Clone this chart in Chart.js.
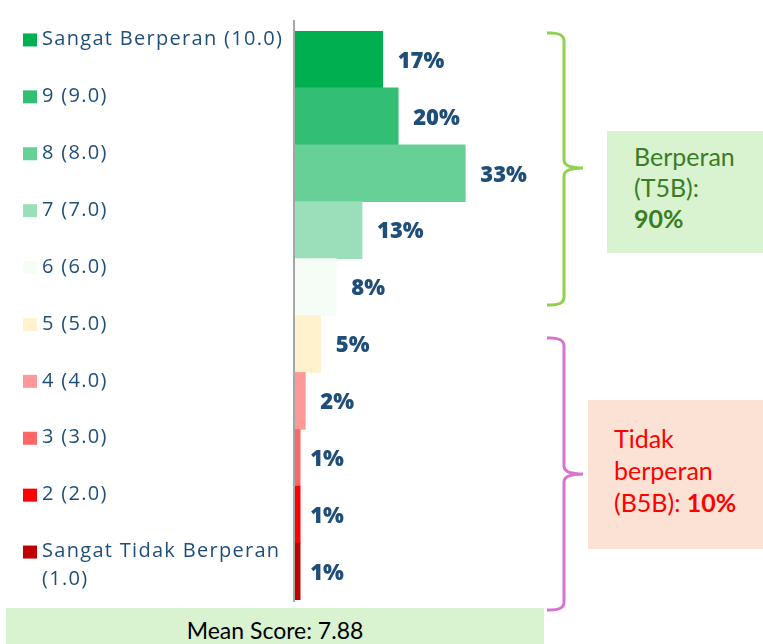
<!DOCTYPE html>
<html>
<head>
<meta charset="utf-8">
<script src="https://cdn.jsdelivr.net/npm/chart.js@4"></script>
<style>
  html, body { margin: 0; padding: 0; background: #fff; }
  #wrap { position: relative; width: 763px; height: 644px; overflow: hidden; }
  #chart { position: absolute; left: 0; top: 0; }
  .box { position: absolute; font-family: "Lato", "Open Sans", sans-serif; }
  #t5b { left: 607px; top: 131px; width: 160px; height: 122px; background: #d9f2d0; color: #3b7d23; font-size: 25px; line-height: 31px; padding: 10px 0 0 27px; box-sizing: border-box; }
  #b5b { left: 588px; top: 400px; width: 180px; height: 149px; background: #fbe2d5; color: #ff0000; font-size: 25px; line-height: 32px; padding: 22px 0 0 26px; box-sizing: border-box; }
  #mean { left: 6px; top: 608px; width: 538px; height: 36px; background: #d9f2d0; color: #000; font-size: 23px; line-height: 45px; text-align: center; }
</style>
</head>
<body>
<div id="wrap">
  <canvas id="chart" width="763" height="644"></canvas>
  <div class="box" id="t5b">Berperan<br>(T5B):<br><b>90%</b></div>
  <div class="box" id="b5b">Tidak<br>berperan<br>(B5B): <b>10%</b></div>
  <div class="box" id="mean">Mean Score: 7.88</div>
</div>
<script>
"use strict";

// skala 10 → 1, dari atas ke bawah
const CATEGORIES = [
  ["Sangat Berperan (10.0)"],
  ["9 (9.0)"],
  ["8 (8.0)"],
  ["7 (7.0)"],
  ["6 (6.0)"],
  ["5 (5.0)"],
  ["4 (4.0)"],
  ["3 (3.0)"],
  ["2 (2.0)"],
  ["Sangat Tidak Berperan", "(1.0)"],
];
const PERCENTS = [17, 20, 33, 13, 8, 5, 2, 1, 1, 1];
const BAR_COLORS = ["#00b050", "#33bf73", "#66d096", "#9adfb9", "#f5fdf6", "#fff2cc", "#ff9999", "#ff6666", "#ff0000", "#c00000"];

const LABEL_BLUE = "#1f4e79";

// garis sumbu vertikal abu-abu
const axisLine = {
  id: "axisLine",
  afterDatasetsDraw(chart) {
    const { ctx, scales: { x } } = chart;
    const x0 = x.getPixelForValue(0) - 1;
    ctx.save();
    ctx.strokeStyle = "#a6a6a6";
    ctx.lineWidth = 2;
    ctx.beginPath();
    ctx.moveTo(x0, 20);
    ctx.lineTo(x0, 602);
    ctx.stroke();
    ctx.restore();
  },
};

// legenda kiri: kotak warna + teks, sejajar tiap baris
const sideLegend = {
  id: "sideLegend",
  afterDraw(chart) {
    const { ctx, scales: { y } } = chart;
    ctx.save();
    ctx.font = '20px "Open Sans", sans-serif';
    ctx.letterSpacing = "1.3px";
    ctx.textBaseline = "middle";
    ctx.textAlign = "left";
    CATEGORIES.forEach((lines, i) => {
      const cy = y.getPixelForValue(i) - 20;
      ctx.fillStyle = BAR_COLORS[i];
      ctx.fillRect(23, cy - 6, 14, 13);
      ctx.fillStyle = LABEL_BLUE;
      lines.forEach((t, j) => ctx.fillText(t, 42, cy + j * 28));
    });
    ctx.restore();
  },
};

// label persen di ujung batang
const valueLabels = {
  id: "valueLabels",
  afterDatasetsDraw(chart) {
    const { ctx } = chart;
    const meta = chart.getDatasetMeta(0);
    ctx.save();
    ctx.font = '800 22px "Open Sans", sans-serif';
    ctx.fillStyle = LABEL_BLUE;
    ctx.textBaseline = "middle";
    ctx.textAlign = "left";
    meta.data.forEach((bar, i) => {
      const gap = PERCENTS[i] < 2 ? 10 : 15;
      ctx.fillText(Math.round(PERCENTS[i]) + "%", bar.x + gap, bar.y + 2);
    });
    ctx.restore();
  },
};

// kurung kurawal kanan untuk T5B dan B5B
function brace(ctx, x, top, bottom, tip, color) {
  const r = 8;
  ctx.save();
  ctx.strokeStyle = color;
  ctx.lineWidth = 3;
  ctx.beginPath();
  ctx.moveTo(x - 17, top);
  ctx.quadraticCurveTo(x, top - 1, x, top + r);
  ctx.lineTo(x, tip - r);
  ctx.quadraticCurveTo(x, tip, x + 19, tip);
  ctx.quadraticCurveTo(x, tip, x, tip + r);
  ctx.lineTo(x, bottom - r);
  ctx.quadraticCurveTo(x, bottom + 1, x - 17, bottom);
  ctx.stroke();
  ctx.restore();
}

const braces = {
  id: "braces",
  afterDraw(chart) {
    const ctx = chart.ctx;
    brace(ctx, 564, 33, 305, 168, "#92d050");
    brace(ctx, 564, 338, 610, 474, "#d874d0");
  },
};

new Chart(document.getElementById("chart"), {
  type: "bar",
  data: {
    labels: CATEGORIES.map((l) => l.join(" ")),
    datasets: [{
      data: PERCENTS,
      backgroundColor: BAR_COLORS,
      borderWidth: 0,
      barPercentage: 1,
      categoryPercentage: 1,
    }],
  },
  options: {
    indexAxis: "y",
    responsive: false,
    animation: false,
    layout: { padding: { left: 295, right: 210, top: 31, bottom: 44 } },
    plugins: { legend: { display: false }, tooltip: { enabled: false } },
    scales: {
      x: { display: false, min: 0, max: 50 },
      y: { display: false },
    },
  },
  plugins: [axisLine, sideLegend, valueLabels, braces],
});
</script>
</body>
</html>
